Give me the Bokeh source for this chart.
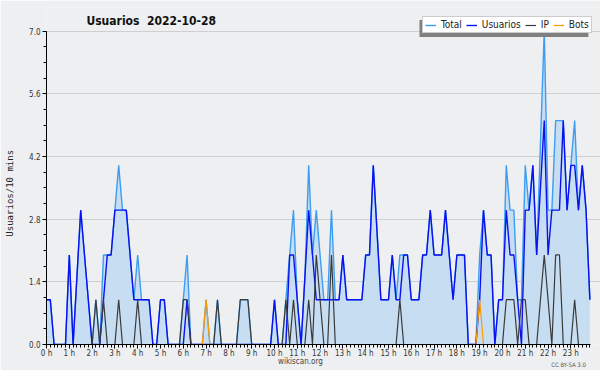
from math import pi
from bokeh.plotting import figure
from bokeh.models import Range1d, FixedTicker, Label, Legend, LegendItem, BoxAnnotation
from bokeh.embed import file_html
from bokeh.resources import INLINE

# ---- data (10-minute slots, 0 h .. 23 h 50) ----
hours = list(range(24))
hour_labels = [f"{h} h" for h in hours]
times = [h + m / 60 for h in hours for m in range(0, 60, 10)]

total = [1, 1, 0, 0, 0, 0,   2, 0, 1.5, 3, 2, 1,   0, 1, 0, 2, 2, 2,   3, 4, 3, 3, 2, 1,
         2, 1, 1, 1, 0, 0,   1, 1, 0, 0, 0, 0,     1, 2, 0, 0, 0, 0,   1, 0, 0, 1, 0, 0,
         0, 0, 0, 1, 1, 1,   0, 0, 0, 0, 0, 0,     1, 0, 0, 1, 2, 3,   1, 0, 1.5, 4, 2, 3,
         2, 1, 1, 3, 1, 1,   2, 1, 1, 1, 1, 1,     2, 2, 4, 2.5, 1, 1, 1, 2, 1, 2, 2, 2,
         1, 1, 1, 2, 2, 3,   2, 2, 2, 3, 2, 1,     2, 2, 2, 0, 0, 0,   2, 3, 2, 2, 0, 1,
         1, 4, 3, 3, 1, 1,   4, 3, 4, 2, 4.5, 7,   3, 3, 5, 5, 5, 3,   4, 5, 3, 4, 3, 1]
usuarios = [1, 1, 0, 0, 0, 0,   2, 0, 1.5, 3, 2, 1,   0, 0, 0, 1, 2, 2,   3, 3, 3, 3, 2, 1,
            1, 1, 1, 1, 0, 0,   1, 1, 0, 0, 0, 0,     0, 1, 0, 0, 0, 0,   0, 0, 0, 0, 0, 0,
            0, 0, 0, 0, 0, 0,   0, 0, 0, 0, 0, 0,     1, 0, 0, 0, 2, 2,   1, 0, 1.5, 3, 2, 1,
            1, 1, 1, 1, 1, 1,   2, 1, 1, 1, 1, 1,     2, 2, 4, 2.5, 1, 1, 1, 2, 1, 1, 2, 2,
            1, 1, 1, 2, 2, 3,   2, 2, 2, 3, 2, 1,     2, 2, 2, 0, 0, 0,   1, 3, 2, 2, 0, 1,
            1, 3, 2, 2, 1, 0,   3, 3, 4, 2, 3.5, 5,   2, 3, 3, 3, 5, 3,   4, 4, 3, 4, 3, 1]
ip = [0, 0, 0, 0, 0, 0,   0, 0, 0, 0, 0, 0,   0, 1, 0, 1, 0, 0,   0, 1, 0, 0, 0, 0,
      1, 0, 0, 0, 0, 0,   0, 0, 0, 0, 0, 0,   1, 1, 0, 0, 0, 0,   0, 0, 0, 1, 0, 0,
      0, 0, 0, 1, 1, 1,   0, 0, 0, 0, 0, 0,   0, 0, 0, 1, 0, 1,   0, 0, 0, 1, 0, 2,
      1, 0, 0, 2, 0, 0,   0, 0, 0, 0, 0, 0,   0, 0, 0, 0, 0, 0,   0, 0, 0, 1, 0, 0,
      0, 0, 0, 0, 0, 0,   0, 0, 0, 0, 0, 0,   0, 0, 0, 0, 0, 0,   0, 0, 0, 0, 0, 0,
      0, 1, 1, 1, 0, 1,   1, 0, 0, 0, 1, 2,   1, 0, 2, 2, 0, 0,   0, 1, 0, 0, 0, 0]
bots = [0] * 42 + [1] + [0] * 71 + [1] + [0] * 29

y_ticks = [0.0, 1.4, 2.8, 4.2, 5.6, 7.0]
y_tick_labels = ["0.0", "1.4", "2.8", "4.2", "5.6", "7.0"]
y_minor = [k * 0.35 for k in range(21)]

FONT = "DejaVu Sans Condensed"
BG = "#eeeff0"

p = figure(width=600, height=370, output_backend="svg", toolbar_location=None,
           title=None, x_range=Range1d(0, 24.3), y_range=Range1d(0, 7.526),
           min_border_left=46, min_border_right=0, min_border_top=0, min_border_bottom=26)
p.background_fill_color = BG
p.border_fill_color = BG
p.outline_line_color = None

p.varea(x=times, y1=0, y2=total, fill_color="#c7ddf1", fill_alpha=1)
r_total = p.line(times, total, line_color="#3d9df2", line_width=1.4)
r_user = p.line(times, usuarios, line_color="#0a10f0", line_width=1.4)
r_ip = p.line(times, ip, line_color="#3a3a3a", line_width=1.2)
r_bots = p.line(times, bots, line_color="#ff9a00", line_width=1.2)

# axes
p.xaxis.ticker = FixedTicker(ticks=hours, minor_ticks=times)
p.xaxis.major_label_overrides = {h: lab for h, lab in zip(hours, hour_labels)}
p.xaxis.bounds = (0, 23.86)
p.yaxis.ticker = FixedTicker(ticks=y_ticks, minor_ticks=y_minor)
p.yaxis.major_label_overrides = {t: lab for t, lab in zip(y_ticks, y_tick_labels)}
p.yaxis.bounds = (0, 7)
for ax in (p.xaxis, p.yaxis):
    ax.axis_line_color = "black"
    ax.major_tick_line_color = "black"
    ax.minor_tick_line_color = "black"
    ax.major_tick_in = 0
    ax.minor_tick_in = 0
    ax.major_tick_out = 4
    ax.minor_tick_out = 3
    ax.major_label_text_font = FONT
    ax.major_label_text_font_size = "8px"
    ax.major_label_text_color = "#333333"
p.xaxis.major_label_standoff = 0
p.yaxis.major_label_standoff = 2
p.xgrid.visible = False
p.ygrid.ticker = FixedTicker(ticks=y_ticks)
p.ygrid.grid_line_color = "#cfcfcf"
p.ygrid.bounds = (0, 23.86)

# title (inside the extended frame)
p.add_layout(Label(x=1.75, y=7.224, text="Usuarios\u00a0 2022-10-28", text_font=FONT,
                   text_font_style="bold", text_font_size="12px", text_color="#111111",
                   text_baseline="alphabetic"))
# y label and footer texts, hosted in side panels so they are not clipped
p.add_layout(Label(x=-1.58, y=3.377, text="Usuarios/10 mins", angle=pi / 2,
                   text_font="DejaVu Sans Mono", text_font_size="9px",
                   text_color="#222222", text_align="center", text_baseline="middle"), "left")
p.add_layout(Label(x=22.9, y=-0.447, text="CC BY-SA 3.0", text_font=FONT,
                   text_font_size="6px", text_color="#555555", text_align="center",
                   text_baseline="middle"), "above")
p.add_layout(Label(x=11.14, y=-0.38, text="wikiscan.org", text_font=FONT,
                   text_font_size="8px", text_color="#444444", text_align="center",
                   text_baseline="middle"), "below")

items = [LegendItem(label="Total", renderers=[r_total]),
         LegendItem(label="Usuarios", renderers=[r_user]),
         LegendItem(label="IP", renderers=[r_ip]),
         LegendItem(label="Bots", renderers=[r_bots])]

# legend shadow
p.add_layout(BoxAnnotation(left=16.36, right=23.77, top=7.247, bottom=6.866,
                           fill_color="#808080", fill_alpha=1, line_color=None))
legend = Legend(items=items, orientation="horizontal", location=(376, 311), margin=0,
                padding=2, spacing=4, glyph_width=11, glyph_height=10,
                label_standoff=5, label_width=0, label_height=10,
                label_text_font=FONT, label_text_font_size="10px",
                label_text_color="#222222", background_fill_color="white",
                background_fill_alpha=1, border_line_color="#9a9a9a")
p.add_layout(legend, "center")

open("out.html", "w").write(file_html(p, INLINE))
